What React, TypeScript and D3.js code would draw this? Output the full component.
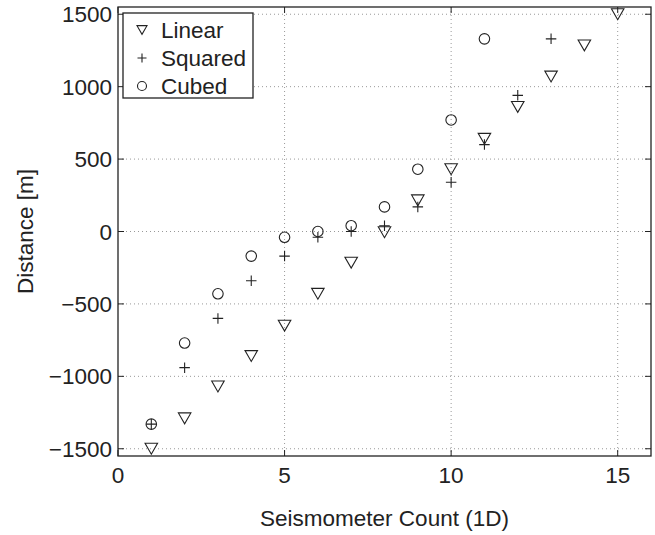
import React from "react";
import * as d3 from "d3";

const linearX = [1, 2, 3, 4, 5, 6, 7, 8, 9, 10, 11, 12, 13, 14, 15];
const linearY = [-1500, -1290, -1070, -860, -650, -430, -215, -5, 215, 430, 640, 860, 1070, 1285, 1500];
const squaredX = [1, 2, 3, 4, 5, 6, 7, 8, 9, 10, 11, 12, 13];
const squaredY = [-1330, -940, -600, -340, -170, -40, 0, 40, 170, 340, 600, 940, 1330];
const cubedX = [1, 2, 3, 4, 5, 6, 7, 8, 9, 10, 11];
const cubedY = [-1330, -770, -430, -170, -40, 0, 40, 170, 430, 770, 1330];
const xTicks = [0, 5, 10, 15];
const yTicks = [-1500, -1000, -500, 0, 500, 1000, 1500];
const legendLabels = ["Linear", "Squared", "Cubed"];

const W = 655, H = 535;
const L = 118, R = 651, T = 7, B = 456;
const FONT = "'Liberation Sans', Arial, sans-serif";
const FS = 22.5;

function Tri({ x, y, s }: { x: number; y: number; s: number }) {
  const h = s * 0.87;
  return <path d={`M${x - s / 2},${y - h / 2}L${x + s / 2},${y - h / 2}L${x},${y + h / 2}Z`} fill="none" stroke="#222" strokeWidth={1.1} />;
}
function Plus({ x, y, s }: { x: number; y: number; s: number }) {
  return <path d={`M${x - s / 2},${y}H${x + s / 2}M${x},${y - s / 2}V${y + s / 2}`} fill="none" stroke="#222" strokeWidth={1.1} />;
}
function Circ({ x, y, s }: { x: number; y: number; s: number }) {
  return <circle cx={x} cy={y} r={s / 2} fill="none" stroke="#222" strokeWidth={1.1} />;
}

export default function App() {
  const x = d3.scaleLinear().domain([0, 16]).range([L, R]);
  const y = d3.scaleLinear().domain([-1550, 1550]).range([B, T]);
  const tl = 6;
  return (
    <svg width={W} height={H} style={{ position: "absolute", left: 0, top: 0 }} fontFamily={FONT}>
      <rect width={W} height={H} fill="#fff" />
      {/* grid */}
      {xTicks.filter((t) => t > 0).map((t) => (
        <line key={"gx" + t} x1={x(t)} x2={x(t)} y1={T} y2={B} stroke="#999" strokeWidth={1} strokeDasharray="1,3" />
      ))}
      {yTicks.map((t) => (
        <line key={"gy" + t} x1={L} x2={R} y1={y(t)} y2={y(t)} stroke="#999" strokeWidth={1} strokeDasharray="1,3" />
      ))}
      {/* ticks */}
      {xTicks.map((t) => (
        <g key={"tx" + t}>
          <line x1={x(t)} x2={x(t)} y1={B} y2={B - tl} stroke="#222" />
          <line x1={x(t)} x2={x(t)} y1={T} y2={T + tl} stroke="#222" />
          <text x={x(t)} y={B + 27} textAnchor="middle" fontSize={FS} fill="#222">{t}</text>
        </g>
      ))}
      {yTicks.map((t) => (
        <g key={"ty" + t}>
          <line x1={L} x2={L + tl} y1={y(t)} y2={y(t)} stroke="#222" />
          <line x1={R} x2={R - tl} y1={y(t)} y2={y(t)} stroke="#222" />
          <text x={L - 6} y={y(t) + 8} textAnchor="end" fontSize={FS} fill="#222">{t < 0 ? "\u2212" + Math.abs(t) : t}</text>
        </g>
      ))}
      {/* data */}
      {linearX.map((v, i) => <Tri key={"l" + i} x={x(v)} y={y(linearY[i])} s={12.5} />)}
      {squaredX.map((v, i) => <Plus key={"s" + i} x={x(v)} y={y(squaredY[i])} s={10.5} />)}
      {cubedX.map((v, i) => <Circ key={"c" + i} x={x(v)} y={y(cubedY[i])} s={10.5} />)}
      {/* frame */}
      <rect x={L} y={T} width={R - L} height={B - T} fill="none" stroke="#222" strokeWidth={1.3} />
      {/* legend */}
      <rect x={123} y={13} width={130} height={85} fill="#fff" stroke="#222" strokeWidth={1.3} />
      {legendLabels.map((lab, i) => {
        const ly = 30 + i * 28;
        return (
          <g key={lab}>
            {i === 0 && <Tri x={142} y={ly} s={10} />}
            {i === 1 && <Plus x={142} y={ly} s={9} />}
            {i === 2 && <Circ x={142} y={ly} s={9} />}
            <text x={161} y={ly + 8} fontSize={FS} fill="#222">{lab}</text>
          </g>
        );
      })}
      {/* axis titles */}
      <text x={(L + R) / 2} y={526} textAnchor="middle" fontSize={FS} fill="#222">Seismometer Count (1D)</text>
      <text transform={`translate(33,${(T + B) / 2}) rotate(-90)`} textAnchor="middle" fontSize={FS} fill="#222">Distance [m]</text>
    </svg>
  );
}
